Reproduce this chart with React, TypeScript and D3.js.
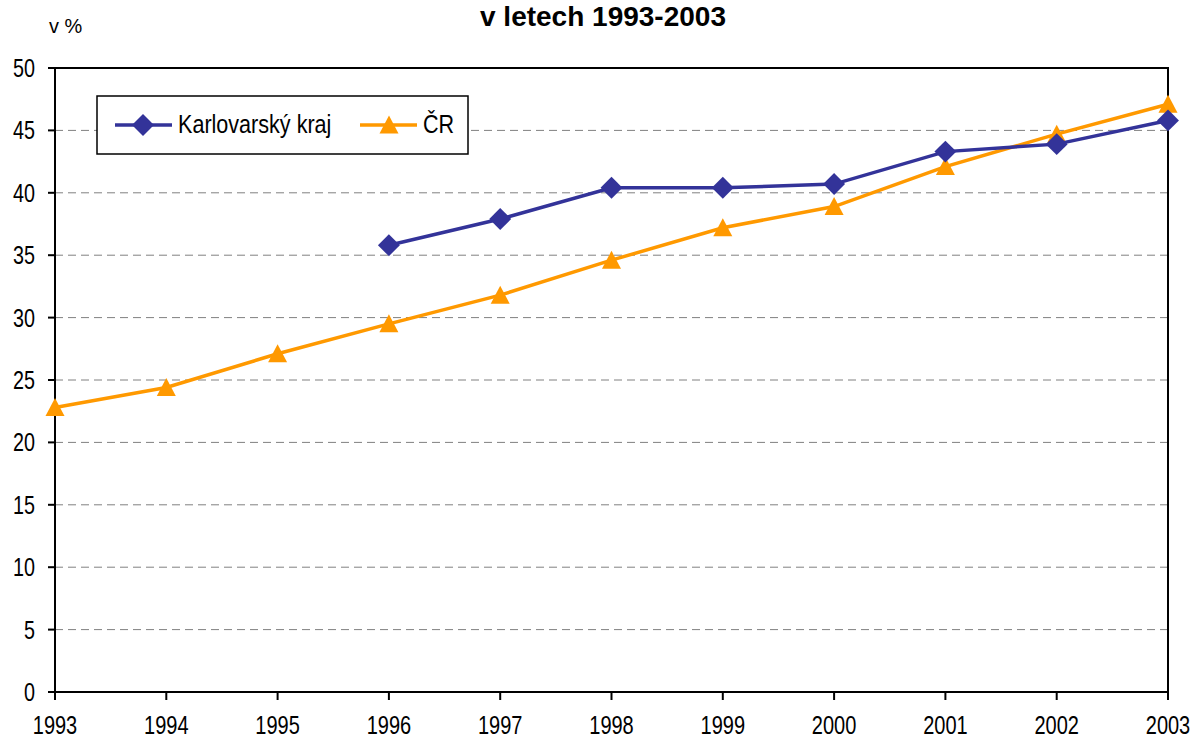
import React from 'react';
import * as d3 from 'd3';

const years = [1993, 1994, 1995, 1996, 1997, 1998, 1999, 2000, 2001, 2002, 2003];
const karlovarsky = [null, null, null, 35.8, 37.9, 40.4, 40.4, 40.7, 43.3, 43.9, 45.8];
const cr = [22.8, 24.4, 27.1, 29.5, 31.8, 34.6, 37.2, 38.9, 42.1, 44.7, 47.1];
const yTicks = [0, 5, 10, 15, 20, 25, 30, 35, 40, 45, 50];

const width = 1196;
const height = 740;
const left = 55;
const right = 1168;
const top = 68;
const bottom = 692;

const sans = '"Liberation Sans", Arial, sans-serif';
const navy = '#333399';
const orange = '#FF9900';

const x = d3.scaleLinear().domain([1993, 2003]).range([left, right]);
const y = d3.scaleLinear().domain([0, 50]).range([bottom, top]);

const line = d3.line<number | null>()
    .defined(d => d !== null)
    .x((d, i) => x(years[i]))
    .y(d => y(d as number));

// rotated square like Excel's diamond marker
const diamond = d3.symbol().type(d3.symbolSquare).size(240);
const triangle = 'M0,-9.5L9.5,8.5L-9.5,8.5Z';

// Arial Narrow look-alike: Liberation Sans squeezed horizontally
function Narrow(props: { x: number, y: number, sx: number, size: number, anchor?: string, children: any }) {
    return (
        <text transform={`translate(${props.x},${props.y}) scale(${props.sx},1)`}
            textAnchor={props.anchor || 'start'} fontFamily={sans} fontSize={props.size}>
            {props.children}
        </text>
    );
}

export default function App() {
    return (
        <svg width={width} height={height}
            style={{ position: 'absolute', left: 0, top: 0, background: '#fff' }}>
            <text x={603} y={26} textAnchor="middle" fontFamily={sans}
                fontWeight="bold" fontSize={28}>v letech 1993-2003</text>
            <Narrow x={49} y={33} sx={0.95} size={21}>v %</Narrow>

            {/* grid */}
            {yTicks.filter(t => t > 0 && t < 50).map(t => (
                <line key={t} x1={left} x2={right} y1={y(t)} y2={y(t)}
                    stroke="#808080" strokeWidth={1} strokeDasharray="8,5" />
            ))}

            {/* plot frame */}
            <rect x={left} y={top} width={right - left} height={bottom - top}
                fill="none" stroke="#000" strokeWidth={2} />

            {/* y axis */}
            {yTicks.map(t => (
                <g key={t}>
                    <line x1={left - 7} x2={left} y1={y(t)} y2={y(t)} stroke="#000" strokeWidth={2} />
                    <Narrow x={35} y={y(t) + 9} sx={0.76} size={26} anchor="end">{t}</Narrow>
                </g>
            ))}

            {/* x axis */}
            {years.map(yr => (
                <g key={yr}>
                    <line x1={x(yr)} x2={x(yr)} y1={bottom} y2={bottom + 8} stroke="#000" strokeWidth={2} />
                    <Narrow x={x(yr)} y={734} sx={0.8} size={25} anchor="middle">{yr}</Narrow>
                </g>
            ))}

            {/* series */}
            <path d={line(cr) || ''} fill="none" stroke={orange} strokeWidth={3.5} />
            {cr.map((v, i) => (
                <path key={'c' + i} d={triangle} fill={orange}
                    transform={`translate(${x(years[i])},${y(v)})`} />
            ))}
            <path d={line(karlovarsky) || ''} fill="none" stroke={navy} strokeWidth={3.5} />
            {karlovarsky.map((v, i) => v === null ? null : (
                <path key={'k' + i} d={diamond() || ''} fill={navy}
                    transform={`translate(${x(years[i])},${y(v)}) rotate(45)`} />
            ))}

            {/* legend */}
            <rect x={97} y={96} width={371} height={58} fill="#fff" stroke="#000" strokeWidth={1.5} />
            <line x1={115} x2={172} y1={125} y2={125} stroke={navy} strokeWidth={3.5} />
            <path d={diamond() || ''} fill={navy} transform="translate(143,125) rotate(45)" />
            <Narrow x={178} y={133} sx={0.83} size={26}>Karlovarský kraj</Narrow>
            <line x1={360} x2={417} y1={125} y2={125} stroke={orange} strokeWidth={3.5} />
            <path d={triangle} fill={orange} transform="translate(389,125)" />
            <Narrow x={423} y={133} sx={0.83} size={26}>ČR</Narrow>
        </svg>
    );
}
